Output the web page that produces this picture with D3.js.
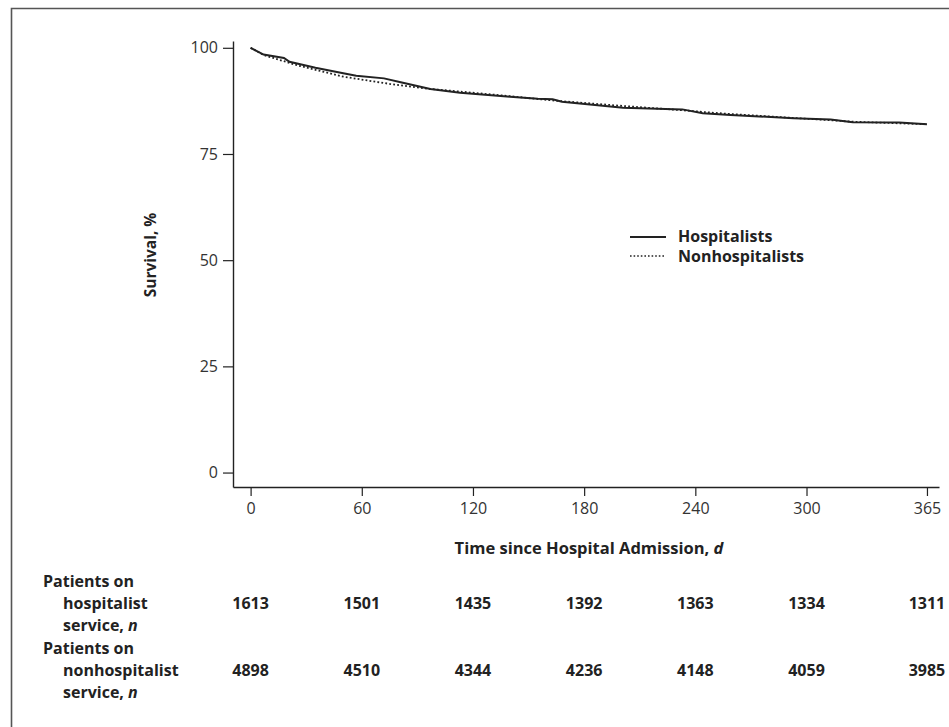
<!DOCTYPE html>
<html>
<head>
<meta charset="utf-8">
<script src="https://cdn.jsdelivr.net/npm/d3@7"></script>
<style>
  body { margin: 0; background: #fff; }
  svg { display: block; font-family: "Open Sans", "Noto Sans", sans-serif; }
  .tick text { font-size: 16px; fill: #333; }
</style>
</head>
<body>
<div id="chart"></div>
<script>
    // survival curves (day, percent)
    var hospDays = [0, 7, 18, 21, 35, 50, 57, 72, 81, 97, 113, 140, 155, 163, 168, 201, 233, 244, 259, 293, 313, 325, 350, 365];
    var hospSurv = [100, 98.4, 97.6, 96.7, 95.3, 94.0, 93.4, 92.8, 91.9, 90.3, 89.4, 88.5, 88.0, 87.9, 87.3, 85.9, 85.5, 84.6, 84.2, 83.4, 83.1, 82.5, 82.4, 82.0];
    var nonDays = [0, 7, 25, 50, 75, 97, 113, 140, 163, 201, 233, 244, 259, 293, 325, 365];
    var nonSurv = [100, 98.3, 95.9, 93.2, 91.5, 90.3, 89.7, 88.6, 87.6, 86.3, 85.3, 84.9, 84.4, 83.5, 82.6, 82.0];

    // number at risk table
    var riskDays = [0, 60, 120, 180, 240, 300, 365];
    var hospAtRisk = [1613, 1501, 1435, 1392, 1363, 1334, 1311];
    var nonAtRisk = [4898, 4510, 4344, 4236, 4148, 4059, 3985];

    var xTicks = [0, 60, 120, 180, 240, 300, 365];
    var yTicks = [0, 25, 50, 75, 100];

    var width = 949, height = 727;

    var svg = d3.select('#chart').append('svg')
        .attr('width', width)
        .attr('height', height);

    // frame (top and left edges are visible)
    svg.append('path')
        .attr('d', 'M11.5,' + height + 'V8.5H' + width)
        .attr('fill', 'none')
        .attr('stroke', '#555')
        .attr('stroke-width', 1.6);

    var x = d3.scaleLinear().domain([-9.5, 371.5]).range([233, 939]);
    var y = d3.scaleLinear().domain([-3.4, 101.6]).range([487, 41]);

    // axes
    var xAxis = svg.append('g')
        .attr('transform', 'translate(0,487)')
        .call(d3.axisBottom(x).tickValues(xTicks).tickSize(9).tickSizeOuter(0).tickPadding(7));
    var yAxis = svg.append('g')
        .attr('transform', 'translate(233,0)')
        .call(d3.axisLeft(y).tickValues(yTicks).tickSize(10).tickSizeOuter(0).tickPadding(5));

    [xAxis, yAxis].forEach(function (g) {
        g.attr('font-size', 16).attr('font-family', null);
        g.select('.domain').attr('stroke', '#222').attr('stroke-width', 1.4);
        g.selectAll('.tick line').attr('stroke', '#222').attr('stroke-width', 1.2);
        g.selectAll('.tick text').attr('fill', '#333');
    });

    // curves
    var line = d3.line()
        .x(function (d) { return x(d[0]); })
        .y(function (d) { return y(d[1]); });

    var hospData = hospDays.map(function (d, i) { return [d, hospSurv[i]]; });
    var nonData = nonDays.map(function (d, i) { return [d, nonSurv[i]]; });

    svg.append('path')
        .datum(nonData)
        .attr('d', line)
        .attr('fill', 'none')
        .attr('stroke', '#222')
        .attr('stroke-width', 1.8)
        .attr('stroke-dasharray', '1.8,2.2');

    svg.append('path')
        .datum(hospData)
        .attr('d', line)
        .attr('fill', 'none')
        .attr('stroke', '#222')
        .attr('stroke-width', 2);

    // legend
    var legend = svg.append('g').attr('font-weight', 'bold').attr('font-size', '16px').attr('fill', '#222');
    legend.append('line').attr('x1', 630).attr('x2', 666).attr('y1', 237).attr('y2', 237)
        .attr('stroke', '#222').attr('stroke-width', 2);
    legend.append('line').attr('x1', 630).attr('x2', 666).attr('y1', 256).attr('y2', 256)
        .attr('stroke', '#222').attr('stroke-width', 1.6).attr('stroke-dasharray', '1.6,2');
    legend.append('text').attr('x', 678).attr('y', 242).text('Hospitalists');
    legend.append('text').attr('x', 678).attr('y', 262).text('Nonhospitalists');

    // axis titles
    svg.append('text')
        .attr('transform', 'translate(156,255) rotate(-90)')
        .attr('text-anchor', 'middle')
        .attr('font-weight', 'bold')
        .attr('font-size', '15.5px')
        .attr('fill', '#222')
        .text('Survival, %');

    var xTitle = svg.append('text')
        .attr('x', 589)
        .attr('y', 554)
        .attr('text-anchor', 'middle')
        .attr('font-weight', 'bold')
        .attr('font-size', '16.5px')
        .attr('fill', '#222');
    xTitle.append('tspan').text('Time since Hospital Admission, ');
    xTitle.append('tspan').attr('font-style', 'italic').text('d');

    // number at risk table
    var table = svg.append('g').attr('font-weight', 'bold').attr('font-size', '16px').attr('fill', '#222');

    function rowLabel(lines, top) {
        lines.forEach(function (l, i) {
            var t = table.append('text')
                .attr('x', i === 0 ? 43 : 63)
                .attr('y', top + i * 22);
            if (l.slice(-1) === 'n' && l.indexOf(',') > 0) {
                t.append('tspan').text(l.slice(0, -1));
                t.append('tspan').attr('font-style', 'italic').text('n');
            } else {
                t.text(l);
            }
        });
    }
    rowLabel(['Patients on', 'hospitalist', 'service, n'], 587);
    rowLabel(['Patients on', 'nonhospitalist', 'service, n'], 654);

    table.selectAll('.hosp')
        .data(hospAtRisk).enter()
        .append('text')
        .attr('class', 'hosp')
        .attr('text-anchor', 'middle')
        .attr('x', function (d, i) { return x(riskDays[i]); })
        .attr('y', 609)
        .text(function (d) { return d; });

    table.selectAll('.non')
        .data(nonAtRisk).enter()
        .append('text')
        .attr('class', 'non')
        .attr('text-anchor', 'middle')
        .attr('x', function (d, i) { return x(riskDays[i]); })
        .attr('y', 676)
        .text(function (d) { return d; });
</script>
</body>
</html>
